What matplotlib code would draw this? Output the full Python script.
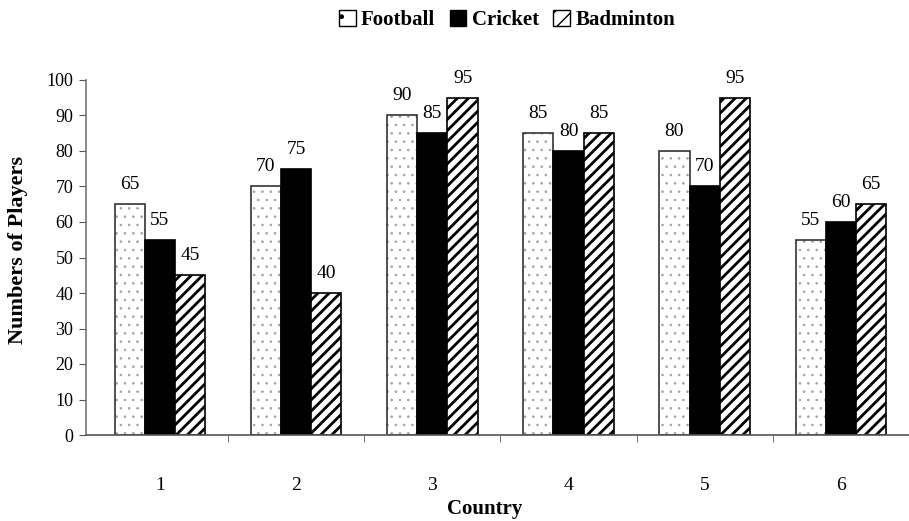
import numpy as np
import matplotlib
matplotlib.use('Agg')
import matplotlib.pyplot as plt
from matplotlib.patches import Patch

# 字体
plt.rcParams['font.family'] = ['Liberation Serif', 'DejaVu Serif']

# data
countries = ['1', '2', '3', '4', '5', '6']
football = [65, 70, 90, 85, 80, 55]
cricket = [55, 75, 85, 80, 70, 60]
badminton = [45, 40, 95, 85, 95, 65]

x = np.arange(1, len(countries) + 1)
w = 0.222

fig = plt.figure(figsize=(9.09, 5.21), dpi=100)
ax = fig.add_axes([86 / 909, 86 / 521, 1 - 86 / 909, 355 / 521])

# football: small gray dots, dark outline
plt.rcParams['hatch.linewidth'] = 0.6
ax.bar(x - w, football, w, color='white', edgecolor='#a0a0a0', hatch='..', linewidth=0)
ax.bar(x - w, football, w, fill=False, edgecolor='#333333', linewidth=1.2)
# cricket
ax.bar(x, cricket, w, color='black', edgecolor='black', linewidth=1.2)
# badminton
plt.rcParams['hatch.linewidth'] = 2.0
ax.bar(x + w, badminton, w, color='white', edgecolor='black', hatch='///', linewidth=1.2)

for series, off in [(football, -w), (cricket, 0), (badminton, w)]:
    for xi, v in zip(x, series):
        ax.annotate(str(v), (xi + off, v), xytext=(0, 8), textcoords='offset points',
                    ha='center', va='bottom', fontsize=14)

ax.set_ylim(0, 100)
ax.set_xlim(0.457, 6.42)
ax.set_yticks(range(0, 101, 10))
ax.set_xticks(x)
ax.set_xticklabels(countries)
ax.set_xticks(np.arange(1.5, 7, 1), minor=True)
ax.tick_params(axis='x', which='major', length=0, pad=30, labelsize=14)
ax.tick_params(axis='x', which='minor', length=5, direction='out', color='#555555')
ax.tick_params(axis='y', length=5, direction='out', color='#555555', labelsize=13, pad=4)

for s in ['top', 'right']:
    ax.spines[s].set_visible(False)
ax.spines['left'].set_color('#777777')
ax.spines['bottom'].set_color('#555555')
ax.spines['left'].set_linewidth(1.2)
ax.spines['bottom'].set_linewidth(1.2)

ax.set_ylabel('Numbers of Players', fontsize=16, fontweight='bold')
ax.yaxis.set_label_coords(-0.07, 0.52)
ax.set_xlabel('Country', fontsize=15, fontweight='bold', va='center')
ax.xaxis.set_label_coords((485 - 86) / (909 - 86), -(509 - 435) / 355)

plt.rcParams['hatch.linewidth'] = 1.0
handles = [
    Patch(facecolor='white', edgecolor='black', hatch='.', linewidth=1),
    Patch(facecolor='black', edgecolor='black'),
    Patch(facecolor='white', edgecolor='black', hatch='//', linewidth=1),
]
fig.legend(handles, ['Football', 'Cricket', 'Badminton'], loc='center',
           bbox_to_anchor=(507 / 909, 1 - 20 / 521), ncol=3, frameon=False,
           prop={'weight': 'bold', 'size': 15}, handlelength=0.8, handleheight=0.8,
           handletextpad=0.25, columnspacing=0.7)

fig.savefig('out.png', dpi=100)
